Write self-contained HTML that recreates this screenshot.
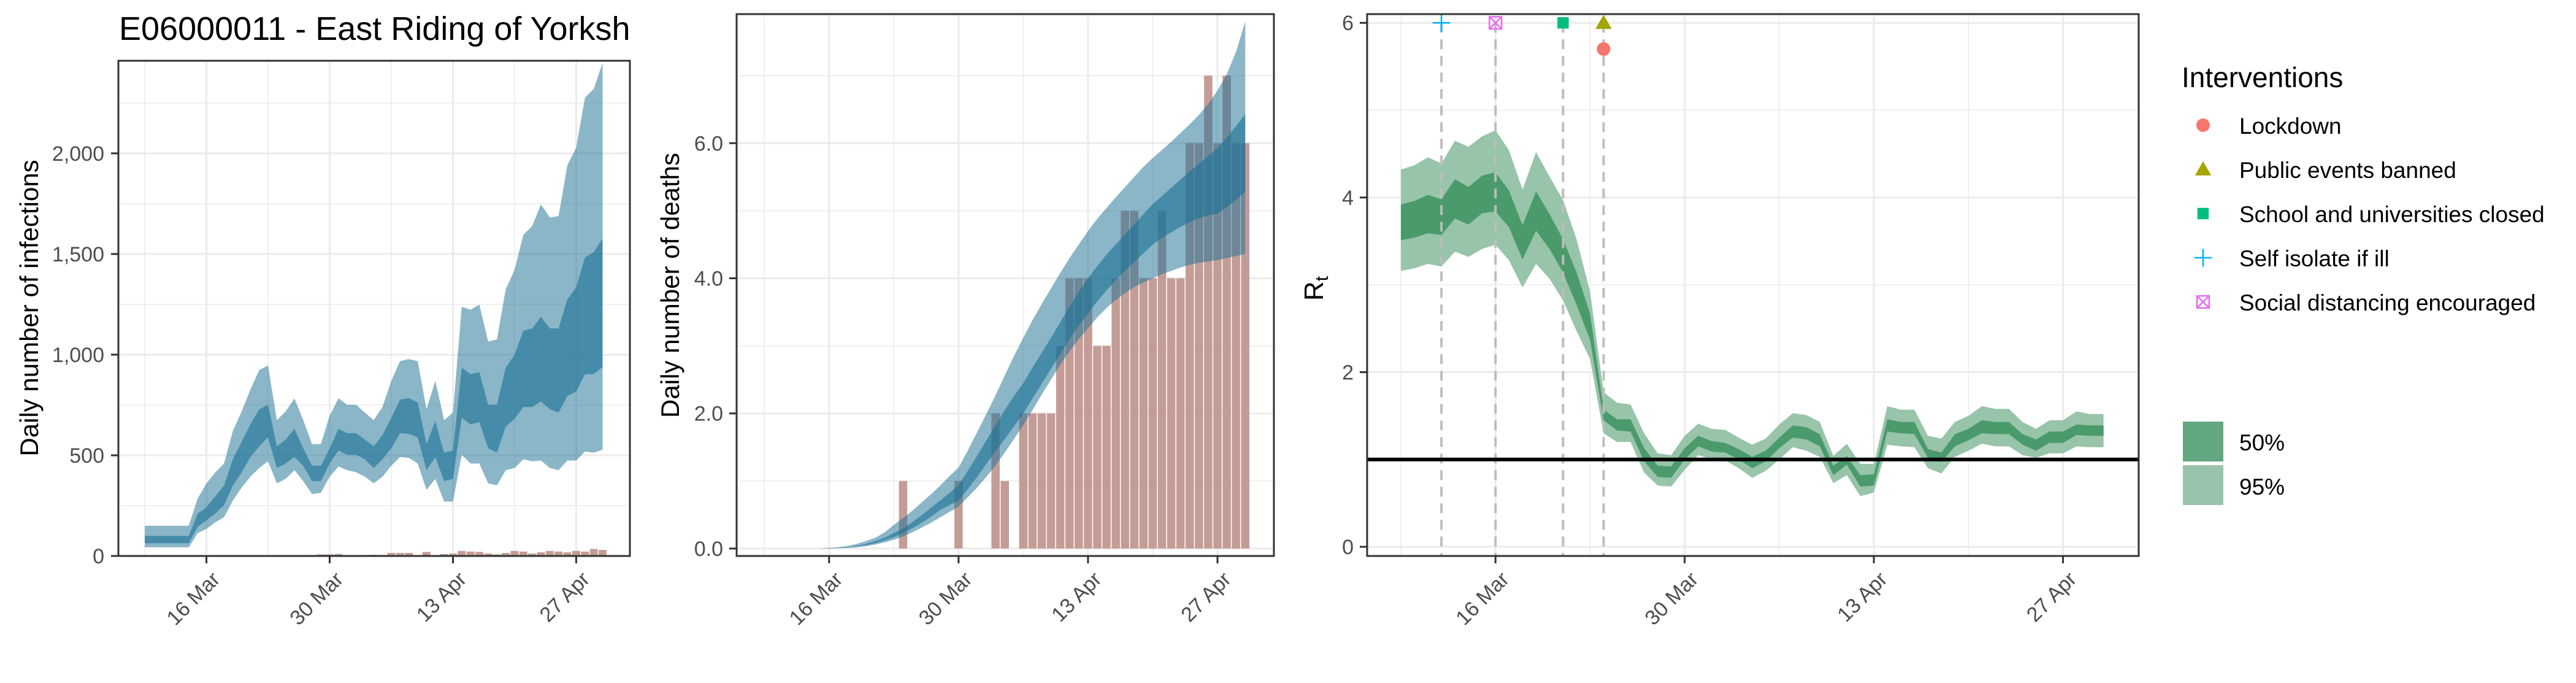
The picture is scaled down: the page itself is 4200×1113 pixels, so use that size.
<!DOCTYPE html>
<html><head><meta charset="utf-8">
<style>
html,body{margin:0;padding:0;background:#fff;}
svg{display:block;font-family:"Liberation Sans",Arial,sans-serif;}
</style></head>
<body>
<svg id="chart" width="4200" height="1113" viewBox="0 0 4200 1113" xmlns="http://www.w3.org/2000/svg">
<text x="194" y="65" font-size="54" fill="#000">E06000011 - East Riding of Yorksh</text>
<g id="p1"></g>
<g id="p2"></g>
<g id="p3"></g>
<g id="legend"></g>
</svg>
<script>
const NS = "http://www.w3.org/2000/svg";
const dayOffsets = Array.from({length: 53}, (_, i) => i - 7);
const xTickDays = [0, 14, 28, 42];
const xTickLabels = ["16 Mar", "30 Mar", "13 Apr", "27 Apr"];

const infU95 = [150,150,150,150,150,150,285,360,415,459,621,718,827,924,946,675,718,783,675,556,556,697,783,751,751,712,675,740,870,968,978,968,729,870,675,712,1238,1223,1249,1065,1076,1325,1422,1595,1639,1747,1682,1688,1942,2028,2277,2320,2450];
const infL95 = [43,43,43,43,43,43,113,134,167,193,275,340,394,437,470,361,383,426,372,307,314,394,444,426,416,394,361,394,448,491,487,459,329,383,270,270,502,459,459,361,351,426,437,480,470,474,437,426,474,474,519,513,528];
const infU50 = [100,100,100,100,100,100,210,242,296,350,480,567,654,729,751,545,578,632,535,448,448,535,632,610,610,578,545,600,686,777,784,762,556,669,513,524,935,903,913,751,751,935,1000,1119,1130,1188,1130,1130,1275,1335,1483,1509,1578];
const infL50 = [63,63,63,63,63,63,145,177,210,253,350,415,491,545,589,437,459,491,448,372,372,459,524,502,502,480,437,480,535,610,606,589,426,491,372,383,686,654,665,535,513,643,682,740,740,768,729,712,794,816,903,903,939];
const cases = [0,0,0,0,0,0,0,0,0,0,0,0,0,0,0,0,0,0,0,5,8,8,10,3,3,5,6,5,15,15,15,2,20,0,10,12,25,22,20,12,8,15,25,22,12,18,25,22,18,25,22,35,30];
const infTicks = [0, 500, 1000, 1500, 2000];
const infTickLabels = ["0", "500", "1,000", "1,500", "2,000"];

const deaths = [0,0,0,0,0,0,0,0,0,0,0,0,0,0,0,1,0,0,0,0,0,1,0,0,0,2,1,0,2,2,2,2,3,4,4,4,3,3,4,5,5,4,4,5,4,4,6,6,7,6,7,6,6];
const dthU95 = [null,null,null,null,null,0,0,.01,.02,.04,.07,.11,.16,.24,.35,.45,.56,.68,.8,.93,1.07,1.2,1.45,1.72,1.99,2.27,2.56,2.85,3.12,3.38,3.62,3.85,4.08,4.3,4.5,4.7,4.88,5.04,5.2,5.35,5.5,5.65,5.78,5.9,6.02,6.15,6.28,6.42,6.58,6.78,7.02,7.35,7.8];
const dthU50 = [null,null,null,null,null,0,0,.005,.01,.02,.04,.07,.11,.16,.23,.3,.39,.49,.6,.71,.82,.94,1.15,1.37,1.6,1.83,2.05,2.26,2.45,2.68,2.9,3.12,3.35,3.58,3.8,4.0,4.18,4.35,4.5,4.65,4.8,4.95,5.1,5.22,5.34,5.46,5.58,5.7,5.81,5.93,6.08,6.25,6.43];
const dthL50 = [null,null,null,null,null,0,0,.003,.007,.015,.03,.05,.08,.12,.17,.23,.3,.38,.47,.57,.64,.71,.88,1.06,1.25,1.44,1.62,1.81,2.0,2.22,2.44,2.66,2.88,3.1,3.3,3.48,3.66,3.82,3.97,4.11,4.24,4.37,4.5,4.6,4.68,4.76,4.83,4.89,4.93,4.96,5.05,5.16,5.28];
const dthL95 = [null,null,null,null,null,0,0,.002,.005,.01,.02,.035,.06,.09,.13,.18,.24,.31,.38,.46,.54,.62,.76,.9,1.06,1.23,1.42,1.62,1.83,2.05,2.28,2.5,2.72,2.92,3.1,3.26,3.42,3.56,3.68,3.78,3.87,3.94,4.0,4.06,4.11,4.16,4.2,4.23,4.25,4.27,4.3,4.33,4.36];
const dthTicks = [0, 2, 4, 6];
const dthTickLabels = ["0.0", "2.0", "4.0", "6.0"];

const rtU95 = [4.32,4.37,4.46,4.39,4.65,4.58,4.70,4.77,4.54,4.09,4.52,4.24,3.97,3.52,2.92,1.77,1.65,1.63,1.30,1.07,1.05,1.27,1.41,1.35,1.34,1.25,1.17,1.24,1.40,1.53,1.51,1.43,1.04,1.18,0.95,0.95,1.61,1.57,1.57,1.27,1.24,1.43,1.50,1.61,1.58,1.58,1.43,1.35,1.45,1.45,1.55,1.52,1.52];
const rtL95 = [3.16,3.19,3.24,3.21,3.38,3.32,3.41,3.46,3.28,2.97,3.24,3.07,2.82,2.47,2.15,1.30,1.20,1.20,0.85,0.70,0.69,0.88,1.05,1.00,0.99,0.90,0.79,0.87,1.00,1.14,1.10,1.03,0.73,0.82,0.58,0.62,1.17,1.15,1.14,0.90,0.84,1.03,1.10,1.18,1.15,1.15,1.05,1.02,1.07,1.07,1.15,1.14,1.14];
const rtU50 = [3.92,3.96,4.03,3.98,4.21,4.12,4.25,4.29,4.08,3.68,4.07,3.81,3.52,3.14,2.67,1.57,1.46,1.46,1.13,0.93,0.92,1.13,1.27,1.21,1.19,1.12,1.03,1.10,1.25,1.39,1.37,1.29,0.93,1.04,0.82,0.83,1.46,1.43,1.43,1.12,1.08,1.29,1.35,1.45,1.43,1.43,1.29,1.23,1.32,1.32,1.40,1.39,1.39];
const rtL50 = [3.51,3.54,3.59,3.57,3.76,3.69,3.82,3.84,3.66,3.29,3.62,3.41,3.14,2.77,2.37,1.45,1.33,1.32,0.98,0.80,0.79,1.00,1.15,1.09,1.08,1.00,0.90,0.98,1.13,1.25,1.23,1.15,0.82,0.94,0.69,0.70,1.32,1.30,1.29,1.02,0.97,1.15,1.22,1.30,1.29,1.29,1.17,1.10,1.19,1.19,1.28,1.27,1.27];
const rtTicks = [0, 2, 4, 6];
const rtTickLabels = ["0", "2", "4", "6"];

const interventionNames = ["Lockdown", "Public events banned", "School and universities closed", "Self isolate if ill", "Social distancing encouraged"];
const interventionDays = [8, 8, 5, -4, 0];
const interventionY = [5.7, 6, 6, 6, 6];
const interventionColors = ["#f8766d", "#a3a500", "#00bf7d", "#00b0f6", "#e76bf3"];
const interventionShapes = ["circle", "triangle", "square", "plus", "boxx"];

function mk(parent, tag, attrs) {
  const e = document.createElementNS(NS, tag);
  for (const k in attrs) e.setAttribute(k, attrs[k]);
  parent.appendChild(e);
  return e;
}
function scale(d0, d1, r0, r1) { return v => r0 + (v - d0) * (r1 - r0) / (d1 - d0); }

function frame(g, L, R, T, B, xs, ys, yMajor, yMinor) {
  mk(g, "rect", {x: L, y: T, width: R - L, height: B - T, fill: "#fff"});
  [-7, 7, 21, 35].forEach(d => { const x = xs(d); if (x > L && x < R) {
    const l = mk(g, "line", {x1: x, x2: x, y1: T, y2: B, stroke: "#ebebeb", "stroke-width": 1.5});
    
     } });
  yMinor.forEach(v => { const y = ys(v);
    const l = mk(g, "line", {x1: L, x2: R, y1: y, y2: y, stroke: "#ebebeb", "stroke-width": 1.5});
    
     });
  xTickDays.forEach(d => { const x = xs(d);
    const l = mk(g, "line", {x1: x, x2: x, y1: T, y2: B, stroke: "#ebebeb", "stroke-width": 3});
    
     });
  yMajor.forEach(v => { const y = ys(v);
    const l = mk(g, "line", {x1: L, x2: R, y1: y, y2: y, stroke: "#ebebeb", "stroke-width": 3});
    
     });
}
function axes(g, L, R, T, B, xs, ys, yMajor, yLabels, labelRight) {
  const b = mk(g, "rect", {x: L, y: T, width: R - L, height: B - T, fill: "none", stroke: "#333", "stroke-width": 3});
  
  
  yMajor.forEach((v, i) => { const y = ys(v);
    const t = mk(g, "line", {x1: L - 12, x2: L, y1: y, y2: y, stroke: "#333", "stroke-width": 3});
    
    
    const tx = mk(g, "text", {x: labelRight, y: y + 12, "font-size": 34, fill: "#4d4d4d", "text-anchor": "end"});
    tx.textContent = yLabels[i];
    
     });
  xTickDays.forEach((d, i) => { const x = xs(d);
    const t = mk(g, "line", {x1: x, x2: x, y1: B, y2: B + 12, stroke: "#333", "stroke-width": 3});
    
    
    const ax = x + 24, ay = B + 40;
    const tx = mk(g, "text", {x: ax, y: ay, "font-size": 34, fill: "#4d4d4d", "text-anchor": "end", transform: `rotate(-45 ${ax} ${ay})`});
    tx.textContent = xTickLabels[i];
    
     });
}
function ribbon(g, xs, ys, up, lo, fill, op) {
  const idx = dayOffsets.map((d, i) => i).filter(i => up[i] !== null);
  let p = idx.map((i, k) => (k ? "L" : "M") + xs(dayOffsets[i]).toFixed(1) + "," + ys(up[i]).toFixed(1)).join("");
  p += idx.slice().reverse().map(i => "L" + xs(dayOffsets[i]).toFixed(1) + "," + ys(lo[i]).toFixed(1)).join("") + "Z";
  return mk(g, "path", {d: p, fill: fill, "fill-opacity": op});
}
function bars(g, xs, ys, vals, name) {
  const w = (xs(1) - xs(0)) * 0.9;
  vals.forEach((v, i) => { if (v <= 0) return;
    const x = xs(dayOffsets[i]);
    const r = mk(g, "rect", {x: x - w / 2, y: ys(v), width: w, height: ys(0) - ys(v), fill: "#c49c96"});
    
     });
}

/* Panel 1: infections */
(function () {
  const g = document.getElementById("p1");
  const L = 193, R = 1027, T = 99, B = 906;
  const xs = scale(-10, 48.1, L, R), ys = scale(0, 2460, B, T);
  frame(g, L, R, T, B, xs, ys, infTicks, [250, 750, 1250, 1750, 2250]);
  bars(g, xs, ys, cases, "case-bar");
  const r95 = ribbon(g, xs, ys, infU95, infL95, "#1e7396", 0.52);
  
  
  const r50 = ribbon(g, xs, ys, infU50, infL50, "#1e7396", 0.63);
  
  
  axes(g, L, R, T, B, xs, ys, infTicks, infTickLabels, 170);
  const t = mk(g, "text", {x: 0, y: 0, "font-size": 42, fill: "#000", "text-anchor": "middle", transform: "translate(62 502) rotate(-90)"});
  t.textContent = "Daily number of infections";
  
  
})();

/* Panel 2: deaths */
(function () {
  const g = document.getElementById("p2");
  const L = 1201, R = 2077, T = 23, B = 906;
  const xs = scale(-10, 48.1, L, R), ys = scale(-0.11, 7.91, B, T);
  frame(g, L, R, T, B, xs, ys, dthTicks, [1, 3, 5, 7]);
  bars(g, xs, ys, deaths, "death-bar");
  const r95 = ribbon(g, xs, ys, dthU95, dthL95, "#1e7396", 0.52);
  
  
  const r50 = ribbon(g, xs, ys, dthU50, dthL50, "#1e7396", 0.63);
  
  
  axes(g, L, R, T, B, xs, ys, dthTicks, dthTickLabels, 1179);
  const t = mk(g, "text", {x: 0, y: 0, "font-size": 42, fill: "#000", "text-anchor": "middle", transform: "translate(1107 465) rotate(-90)"});
  t.textContent = "Daily number of deaths";
  
  
})();

function symbol(g, shape, color, x, y, s) {
  if (shape === "circle") return mk(g, "circle", {cx: x, cy: y, r: s * 0.5, fill: color});
  if (shape === "triangle") return mk(g, "path", {d: `M${x},${y - s * 0.6}L${x + s * 0.6},${y + s * 0.45}L${x - s * 0.6},${y + s * 0.45}Z`, fill: color});
  if (shape === "square") return mk(g, "rect", {x: x - s * 0.42, y: y - s * 0.42, width: s * 0.84, height: s * 0.84, fill: color});
  if (shape === "plus") return mk(g, "path", {d: `M${x - s * 0.65},${y}H${x + s * 0.65}M${x},${y - s * 0.65}V${y + s * 0.65}`, stroke: color, "stroke-width": 2.5, fill: "none"});
  const h = s * 0.45;
  return mk(g, "path", {d: `M${x - h},${y - h}H${x + h}V${y + h}H${x - h}ZM${x - h},${y - h}L${x + h},${y + h}M${x + h},${y - h}L${x - h},${y + h}`, stroke: color, "stroke-width": 2.5, fill: "none"});
}

/* Panel 3: Rt */
(function () {
  const g = document.getElementById("p3");
  const L = 2229, R = 3487, T = 23, B = 906;
  const xs = scale(-9.5, 47.6, L, R), ys = scale(-0.105, 6.1, B, T);
  frame(g, L, R, T, B, xs, ys, rtTicks, [1, 3, 5]);
  const r95 = ribbon(g, xs, ys, rtU95, rtL95, "#98c4aa", 1);
  
  
  const r50 = ribbon(g, xs, ys, rtU50, rtL50, "#4a9a6c", 1);
  
  
  const drawnDays = [];
  interventionDays.forEach((d, i) => {
    if (drawnDays.indexOf(d) >= 0) return;
    drawnDays.push(d);
    const x = xs(d);
    const l = mk(g, "line", {x1: x, x2: x, y1: ys(6), y2: B, stroke: "#bdbdbd", "stroke-width": 4, "stroke-dasharray": "16 11"});
    
    
  });
  const ref = mk(g, "line", {x1: L, x2: R, y1: ys(1), y2: ys(1), stroke: "#000", "stroke-width": 6});
  
  
  interventionDays.forEach((d, i) => {
    const s = symbol(g, interventionShapes[i], interventionColors[i], xs(d), ys(interventionY[i]), 22);
    
    
  });
  axes(g, L, R, T, B, xs, ys, rtTicks, rtTickLabels, 2207);
  const t = mk(g, "text", {x: 0, y: 0, "font-size": 44, fill: "#000", "text-anchor": "middle", transform: "translate(2157 470) rotate(-90)"});
  t.textContent = "R";
  const sub = mk(t, "tspan", {"font-size": 30, dy: 8});
  sub.textContent = "t";
  
  
})();

/* Legend */
(function () {
  const g = document.getElementById("legend");
  const t = mk(g, "text", {x: 3557, y: 142, "font-size": 46, fill: "#000"});
  t.textContent = "Interventions";
  
  
  interventionNames.forEach((n, i) => {
    const y = 218 + i * 72;
    const s = symbol(g, interventionShapes[i], interventionColors[i], 3592, y - 14, 22);
    
    
    const tx = mk(g, "text", {x: 3651, y: y, "font-size": 37, fill: "#000"});
    tx.textContent = n;
    
    
  });
  const k1 = mk(g, "rect", {x: 3559, y: 687, width: 66, height: 65, fill: "#63a780"});
  
  
  const k2 = mk(g, "rect", {x: 3559, y: 758, width: 66, height: 65, fill: "#99c4ab"});
  
  
  const a = mk(g, "text", {x: 3651, y: 734, "font-size": 37, fill: "#000"});
  a.textContent = "50%";
  
  
  const b = mk(g, "text", {x: 3651, y: 806, "font-size": 37, fill: "#000"});
  b.textContent = "95%";
  
  
})();
</script>
</body></html>
